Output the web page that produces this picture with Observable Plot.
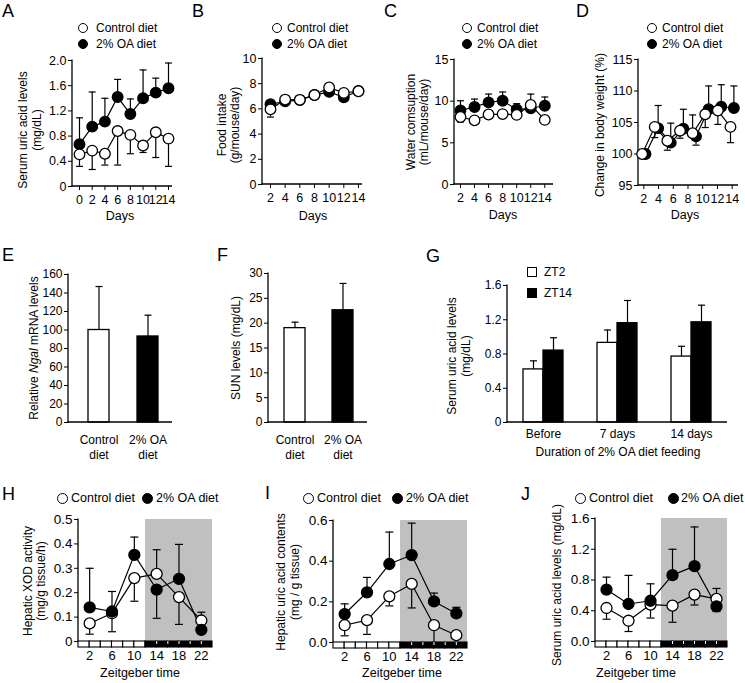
<!DOCTYPE html>
<html><head><meta charset="utf-8">
<script src="https://cdn.jsdelivr.net/npm/d3@7"></script>
<script src="https://cdn.jsdelivr.net/npm/@observablehq/plot@0.6"></script>
<style>
body{margin:0;background:#fff}
#fig{position:relative;width:745px;height:683px;overflow:hidden;font-family:"Liberation Sans",Arial,Helvetica,sans-serif;color:#000;background:#fff}
</style>
</head><body><div id="fig"></div>
<script>
// ---------------- DATA ----------------
// A: serum uric acid over days
const aDays = [0, 2, 4, 6, 8, 10, 12, 14];
const aCtl = [0.51, 0.57, 0.52, 0.88, 0.82, 0.65, 0.86, 0.76];
const aCtlErr = [0.32, 0.27, 0.34, 0.34, 0.52, 0.54, 0.46, 0.32];
const aOA = [0.67, 0.95, 1.03, 1.42, 1.15, 1.40, 1.49, 1.56];
const aOAErr = [1.09, 1.50, 1.40, 1.70, 1.39, 1.85, 1.72, 1.96];
const aYTicks = [0, 0.4, 0.8, 1.2, 1.6, 2.0];
const aYLabels = ["0", "0.4", "0.8", "1.2", "1.6", "2.0"];
// B: food intake
const bDays = [2, 4, 6, 8, 10, 12, 14];
const bCtl = [5.97, 6.74, 6.72, 7.1, 7.7, 7.27, 7.4];
const bCtlErr = [5.35, null, null, null, null, null, null];
const bOA = [6.37, 6.6, 6.7, 7.1, 7.35, 6.92, 7.42];
const bYTicks = [0, 2, 4, 6, 8, 10];
// C: water consumption
const cDays = [2, 4, 6, 8, 10, 12, 14];
const cCtl = [8.1, 7.7, 8.4, 8.45, 8.35, 9.55, 7.75];
const cCtlErr = [7.5, null, null, null, null, 10.85, null];
const cOA = [8.9, 9.3, 9.85, 10.05, 9.0, 9.15, 9.45];
const cOAErr = [10.05, 10.25, 10.85, 11.1, 9.7, null, 10.5];
const cYTicks = [0, 5, 10, 15];
// D: change in body weight
const dDays = [0, 2, 4, 6, 8, 10, 12, 14];
const dCtl = [100, 104.3, 102.1, 103.7, 103.3, 106.3, 106.9, 104.3];
const dCtlErr = [null, 102.6, 100.6, 102.5, 106.2, 104.2, 104.7, 101.8];
const dOA = [100, 104.1, 101.8, 104.0, 102.8, 107.1, 107.5, 107.3];
const dOAErr = [null, 107.7, 104.9, 107.1, 101.4, 110.8, 111.0, 110.8];
const dYTicks = [95, 100, 105, 110, 115];
const dXLabels = ["2", "4", "6", "8", "10", "12", "14"];
// E: Ngal mRNA
const eCats = ["Control diet", "2% OA diet"];
const eLabels = ["Control\ndiet", "2% OA\ndiet"];
const eVals = [100, 93];
const eErr = [147, 116];
const eYTicks = [0, 20, 40, 60, 80, 100, 120, 140, 160];
// F: SUN
const fVals = [19.0, 22.6];
const fErr = [20.2, 28.0];
const fYTicks = [0, 5, 10, 15, 20, 25, 30];
// G: serum uric acid by duration
const gGroups = ["Before", "7 days", "14 days"];
const gZT2 = [0.62, 0.93, 0.77];
const gZT2Err = [0.72, 1.08, 0.89];
const gZT14 = [0.84, 1.16, 1.17];
const gZT14Err = [0.99, 1.425, 1.37];
const gYTicks = [0, 0.4, 0.8, 1.2, 1.6];
const gYLabels = ["0", "0.4", "0.8", "1.2", "1.6"];
// H-J: zeitgeber time series
const zt = [2, 6, 10, 14, 18, 22];
const hCtl = [0.074, 0.116, 0.26, 0.277, 0.182, 0.086];
const hCtlErr = [0.03, 0.04, 0.165, 0.376, 0.07, 0.12];
const hOA = [0.14, 0.123, 0.355, 0.213, 0.257, 0.048];
const hOAErr = [0.30, 0.205, 0.428, 0.095, 0.398, null];
const hYTicks = [0, 0.1, 0.2, 0.3, 0.4, 0.5];
const hYLabels = ["0", "0.1", "0.2", "0.3", "0.4", "0.5"];
const iCtl = [0.085, 0.11, 0.227, 0.288, 0.085, 0.036];
const iCtlErr = [0.033, 0.04, 0.18, 0.17, 0.0, null];
const iOA = [0.14, 0.247, 0.386, 0.43, 0.202, 0.143];
const iOAErr = [0.19, 0.32, 0.543, 0.587, 0.243, 0.173];
const iYTicks = [0, 0.2, 0.4, 0.6];
const iYLabels = ["0.0", "0.2", "0.4", "0.6"];
const jCtl = [0.436, 0.27, 0.48, 0.466, 0.61, 0.554];
const jCtlErr = [0.29, 0.13, 0.305, 0.25, 0.475, 0.69];
const jOA = [0.676, 0.488, 0.53, 0.863, 0.98, 0.458];
const jOAErr = [0.837, 0.86, 0.75, 1.2, 1.49, 0.39];
const jYTicks = [0, 0.4, 0.8, 1.2, 1.6];
const jYLabels = ["0.0", "0.4", "0.8", "1.2", "1.6"];
// light/dark schedule
const ldStart = [0, 2, 4, 6, 8, 10, 12, 14, 16, 18, 20, 22];
const ldPhase = ["L", "L", "L", "L", "L", "L", "D", "D", "D", "D", "D", "D"];
const ldLength = 2;
const night = [{s: 12, e: 24}];

// ---------------- HELPERS ----------------
const FONT = '"Liberation Sans", Arial, Helvetica, sans-serif';
const NS = "http://www.w3.org/2000/svg";
const root = document.getElementById("fig");

function txt(html, x, y, o = {}) {
  const size = o.size ?? 12, lh = o.lh ?? Math.round(size * 1.15);
  const d = document.createElement("div");
  d.innerHTML = html;
  Object.assign(d.style, {position: "absolute", left: x + "px", top: y + "px", fontSize: size + "px",
    lineHeight: lh + "px", whiteSpace: "nowrap", textAlign: o.align === "start" ? "left" : "center"});
  let t = o.align === "start" ? "translate(0,-50%)" : "translate(-50%,-50%)";
  if (o.rot) t += " rotate(-90deg)";
  d.style.transform = t;
  root.appendChild(d);
}
function marker(x, y, fill, o = {}) {
  const r = o.r ?? 5.3;
  const d = document.createElement("div");
  Object.assign(d.style, {position: "absolute", left: (x - r) + "px", top: (y - r) + "px", width: 2 * r + "px", height: 2 * r + "px",
    border: "1.3px solid #000", boxSizing: "border-box", borderRadius: o.square ? "0" : "50%", background: fill});
  root.appendChild(d);
}
function panel(fr, o) {
  const ML = o.ML ?? 45, MR = o.MR ?? 8, MT = o.MT ?? 8, MB = o.MB ?? 32;
  const svg = Plot.plot({
    width: fr[1] - fr[0] + ML + MR, height: fr[3] - fr[2] + MT + MB,
    marginLeft: ML, marginRight: MR, marginTop: MT, marginBottom: MB,
    style: {background: "none", overflow: "visible", fontFamily: FONT, fontSize: (o.fs ?? 12.5) + "px", color: "#000"},
    x: o.x, y: o.y, marks: o.marks
  });
  Object.assign(svg.style, {position: "absolute", left: (fr[0] - ML) + "px", top: (fr[2] - MT) + "px", maxWidth: "none"});
  root.appendChild(svg);
}
function frameLines(o = {}) {
  const left = o.left ?? true, bottom = o.bottom ?? true;
  return (index, scales, values, dim) => {
    const g = document.createElementNS(NS, "g");
    g.setAttribute("stroke", "#000"); g.setAttribute("stroke-width", "1.3"); g.setAttribute("fill", "none");
    const L = dim.marginLeft, R = dim.width - dim.marginRight, T = dim.marginTop, B = dim.height - dim.marginBottom;
    const seg = (x1, y1, x2, y2) => {
      const l = document.createElementNS(NS, "line");
      l.setAttribute("x1", x1); l.setAttribute("y1", y1); l.setAttribute("x2", x2); l.setAttribute("y2", y2);
      g.appendChild(l);
    };
    if (left) seg(L, T - 0.5, L, B + 0.6);
    if (bottom) seg(L - 0.6, B, R, B);
    return g;
  };
}
const cap = {draw(ctx, size) { const w = Math.sqrt(size / Math.PI); ctx.moveTo(-w, 0); ctx.lineTo(w, 0); }};
const rows = (xs, vs, es) => xs.map((x, i) => ({x, v: vs[i], e: es ? es[i] : null}));
const fmt = (ticks, labels) => (d) => labels[ticks.indexOf(d)];

function ts(ctlRows, oaRows, o = {}) {
  const dxC = o.dxC ?? 0, dxO = o.dxO ?? 0, r = o.r ?? 5.3, capR = o.capR ?? 3.5;
  const err = (rs, dx) => {
    const w = rs.filter(d => d.e != null);
    return [
      Plot.ruleX(w, {x: "x", y1: "v", y2: "e", stroke: "#000", strokeWidth: 1.2, dx}),
      Plot.dot(w, {x: "x", y: "e", symbol: cap, r: capR, stroke: "#000", strokeWidth: 1.2, fill: "none", dx})
    ];
  };
  const line = (rs, dx) => Plot.line(rs, {x: "x", y: "v", stroke: "#000", strokeWidth: 1.2, dx});
  const dots = (rs, fill, dx) => Plot.dot(rs, {x: "x", y: "v", r, fill, stroke: "#000", strokeWidth: 1.3, dx});
  const dC = dots(ctlRows, "white", dxC), dO = dots(oaRows, "black", dxO);
  return [line(ctlRows, dxC), line(oaRows, dxO), ...err(ctlRows, dxC), ...err(oaRows, dxO), ...(o.oaOnTop ? [dC, dO] : [dO, dC])];
}
const yAxis = (domain, ticks, labels) => ({domain, ticks, tickFormat: labels ? fmt(ticks, labels) : (d) => String(d), tickSize: 4, tickPadding: 2, label: null});

// ---------------- TOP ROW ----------------
panel([72, 172, 60, 186], {
  x: {domain: [-1.1, 14.63], ticks: aDays, tickFormat: d => String(d), tickSize: 4, tickPadding: 5, label: null},
  y: yAxis([0, 2], aYTicks, aYLabels),
  marks: [frameLines(), ...ts(rows(aDays, aCtl, aCtlErr), rows(aDays, aOA, aOAErr))]
});
panel([262, 362, 58, 184], {
  x: {domain: [0.91, 14.55], ticks: bDays, tickFormat: d => String(d), tickSize: 4, tickPadding: 5, label: null},
  y: yAxis([0, 10], bYTicks),
  marks: [frameLines(), ...ts(rows(bDays, bCtl, bCtlErr), rows(bDays, bOA, null))]
});
panel([454, 553, 59, 184], {
  x: {domain: [1.15, 15.24], ticks: cDays, tickFormat: d => String(d), tickSize: 4, tickPadding: 5, label: null},
  y: yAxis([0, 15], cYTicks),
  marks: [frameLines(), ...ts(rows(cDays, cCtl, cCtlErr), rows(cDays, cOA, cOAErr))]
});
const dTickPos = dXLabels.map((_, i) => i * 14 / (dXLabels.length - 1));
panel([638, 738, 59, 185], {
  MR: 6,
  x: {domain: [-0.84, 15.0], ticks: dTickPos, tickFormat: d => dXLabels[Math.round(d * (dXLabels.length - 1) / 14)], tickSize: 4, tickPadding: 5, label: null},
  y: yAxis([95, 115], dYTicks),
  marks: [frameLines(), ...ts(rows(dDays, dCtl, dCtlErr), rows(dDays, dOA, dOAErr), {dxC: -1.7, dxO: 1.7})]
});

// ---------------- MIDDLE ROW ----------------
function barPanel(fr, cats, labels, vals, errs, band, yDom, yTicks, yLabels) {
  const rs = cats.map((c, i) => ({c, lab: labels[i], v: vals[i], e: errs[i]}));
  panel(fr, {
    fs: 12, MB: 48,
    x: {type: "band", domain: cats, ...band, axis: null},
    y: yAxis(yDom, yTicks, yLabels),
    marks: [
      Plot.ruleX(rs, {x: "c", y1: "v", y2: "e", stroke: "#000", strokeWidth: 1.2}),
      Plot.dot(rs, {x: "c", y: "e", symbol: cap, r: 3.5, stroke: "#000", strokeWidth: 1.2, fill: "none"}),
      Plot.barY(rs.filter((d, i) => i === 0), {x: "c", y: "v", fill: "white", stroke: "#000", strokeWidth: 1.3}),
      Plot.barY(rs.filter((d, i) => i === 1), {x: "c", y: "v", fill: "black", stroke: "#000", strokeWidth: 1.3}),
      Plot.text(rs, {x: "c", text: "lab", frameAnchor: "bottom", lineAnchor: "top", dy: 11.5, lineHeight: 1.2, fontSize: 12}),
      frameLines()
    ]
  });
}
barPanel([68, 172, 274, 422], eCats, eLabels, eVals, eErr, {paddingInner: 0.576, paddingOuter: 0.338, align: 0.57}, [0, 160], eYTicks);
barPanel([268, 367, 273, 422], eCats, eLabels, fVals, fErr, {paddingInner: 0.571, paddingOuter: 0.296, align: 0.517}, [0, 30], fYTicks);

const g2 = gGroups.map((g, i) => ({g, v: gZT2[i], e: gZT2Err[i]}));
const g14 = gGroups.map((g, i) => ({g, v: gZT14[i], e: gZT14Err[i]}));
panel([507, 727, 285, 422], {
  fs: 12, MB: 40,
  x: {type: "band", domain: gGroups, paddingInner: 0.46, paddingOuter: 0.216, align: 0.5, axis: null},
  y: yAxis([0, 1.6], gYTicks, gYLabels),
  marks: [
    Plot.ruleX(g2, {x: "g", y1: "v", y2: "e", stroke: "#000", strokeWidth: 1.2, dx: -10}),
    Plot.dot(g2, {x: "g", y: "e", symbol: cap, r: 3.5, stroke: "#000", strokeWidth: 1.2, fill: "none", dx: -10}),
    Plot.ruleX(g14, {x: "g", y1: "v", y2: "e", stroke: "#000", strokeWidth: 1.2, dx: 10}),
    Plot.dot(g14, {x: "g", y: "e", symbol: cap, r: 3.5, stroke: "#000", strokeWidth: 1.2, fill: "none", dx: 10}),
    Plot.barY(g2, {x: "g", y: "v", fill: "white", stroke: "#000", strokeWidth: 1.3, insetRight: 20}),
    Plot.barY(g14, {x: "g", y: "v", fill: "black", stroke: "#000", strokeWidth: 1.3, insetLeft: 20}),
    Plot.text(gGroups, {x: d => d, text: d => d, frameAnchor: "bottom", lineAnchor: "top", dy: 6.5, fontSize: 12}),
    frameLines()
  ]
});

// ---------------- BOTTOM ROW ----------------
const ldRows = ldStart.map((s, i) => ({s, e: s + ldLength, p: ldPhase[i]}));
function ztPanel(fr, ctl, ctlErr, oa, oaErr, yDom, yTicks, yLabels) {
  panel(fr, {
    fs: 13.5, MB: 4,
    x: {domain: [0, 24], axis: null},
    y: yAxis(yDom, yTicks, yLabels),
    marks: [
      Plot.rect(night, {x1: "s", x2: "e", fill: "#c0c0c0"}),
      frameLines({bottom: false}),
      ...ts(rows(zt, ctl, ctlErr), rows(zt, oa, oaErr), {oaOnTop: true, r: 5.5, capR: 4})
    ]
  });
  const sf = [fr[0], fr[1], fr[3], fr[3] + 6];
  panel(sf, {
    fs: 13, MT: 0, MB: 22,
    x: {domain: [0, 24], ticks: zt, tickFormat: d => String(d), tickSize: 0, tickPadding: 3.5, label: null},
    marks: [
      Plot.rect(ldRows.filter(d => d.p === "L"), {x1: "s", x2: "e", fill: "white", stroke: "#000", strokeWidth: 1.1}),
      Plot.rect(ldRows.filter(d => d.p === "D"), {x1: "s", x2: "e", fill: "black", stroke: "#000", strokeWidth: 1.1}),
      Plot.ruleX(ldRows.filter((d, i) => d.p === "D" && ldPhase[i - 1] === "D"), {x: "s", stroke: "white", strokeWidth: 1, insetBottom: 3})
    ]
  });
}
ztPanel([78, 212, 519, 641], hCtl, hCtlErr, hOA, hOAErr, [0, 0.5], hYTicks, hYLabels);
ztPanel([333, 467, 520, 642], iCtl, iCtlErr, iOA, iOAErr, [0, 0.6], iYTicks, iYLabels);
ztPanel([595, 727, 518, 641], jCtl, jCtlErr, jOA, jOAErr, [0, 1.6], jYTicks, jYLabels);

// ---------------- TEXT, LEGENDS ----------------
const L = 18;
[["A", 2, 11], ["B", 192, 11], ["C", 384, 11], ["D", 576, 11], ["E", 2, 255], ["F", 217, 255], ["G", 426, 256], ["H", 2, 494], ["I", 265, 493], ["J", 521, 494]]
  .forEach(([t, x, y]) => txt(t, x, y, {size: L, align: "start"}));

[[83, 96], [277, 287], [467, 477], [652, 662]].forEach(([cx, tx]) => {
  marker(cx, 28, "white"); txt("Control diet", tx, 28, {size: 12, align: "start"});
  marker(cx, 44, "black"); txt("2% OA diet", tx, 44, {size: 12, align: "start"});
});
txt("Serum uric acid levels<br>(mg/dL)", 30, 130, {rot: true, lh: 13.5});
txt("Food intake<br>(g/mouse/day)", 227.5, 125, {rot: true, lh: 12.5});
txt("Water comsuption<br>(mL/mouse/day)", 418, 122, {rot: true, lh: 13});
txt("Change in body weight (%)", 600, 125, {rot: true});
[[120, 216], [313, 216], [503, 215], [685, 215]].forEach(([x, y]) => txt("Days", x, y, {size: 12.5}));

txt("Relative <i>Ngal</i> mRNA levels", 34.3, 348, {rot: true});
txt("SUN levels (mg/dL)", 235.7, 348, {rot: true});
txt("Serum uric acid levels<br>(mg/dL)", 459, 356, {rot: true, lh: 14});
txt("Duration of 2% OA diet feeding", 618, 452, {size: 12});
marker(532, 272, "white", {r: 5, square: true}); txt("ZT2", 544, 272, {size: 12, align: "start"});
marker(532, 293, "black", {r: 5, square: true}); txt("ZT14", 544, 293, {size: 12, align: "start"});

txt("Hepatic XOD activity<br>(mg/g tissue/h)", 34, 581, {rot: true, lh: 12.5});
txt("Hepatic uric acid contents<br>(mg / g tissue)", 288.3, 582, {rot: true, lh: 13.5});
txt("Serum uric acid levels (mg/dL)", 556.7, 585, {rot: true});
[[140, 673], [402, 673], [636, 673]].forEach(([x, y]) => txt("Zeitgeber time", x, y, {size: 12.5}));
[[62, 71, 147, 156], [308, 317, 397, 406], [580, 589, 673, 681]].forEach(([c1, t1, c2, t2]) => {
  marker(c1, 498, "white", {r: 5.5}); txt("Control diet", t1, 498, {size: 12.5, align: "start"});
  marker(c2, 498, "black", {r: 5.5}); txt("2% OA diet", t2, 498, {size: 12.5, align: "start"});
});
</script></body></html>
